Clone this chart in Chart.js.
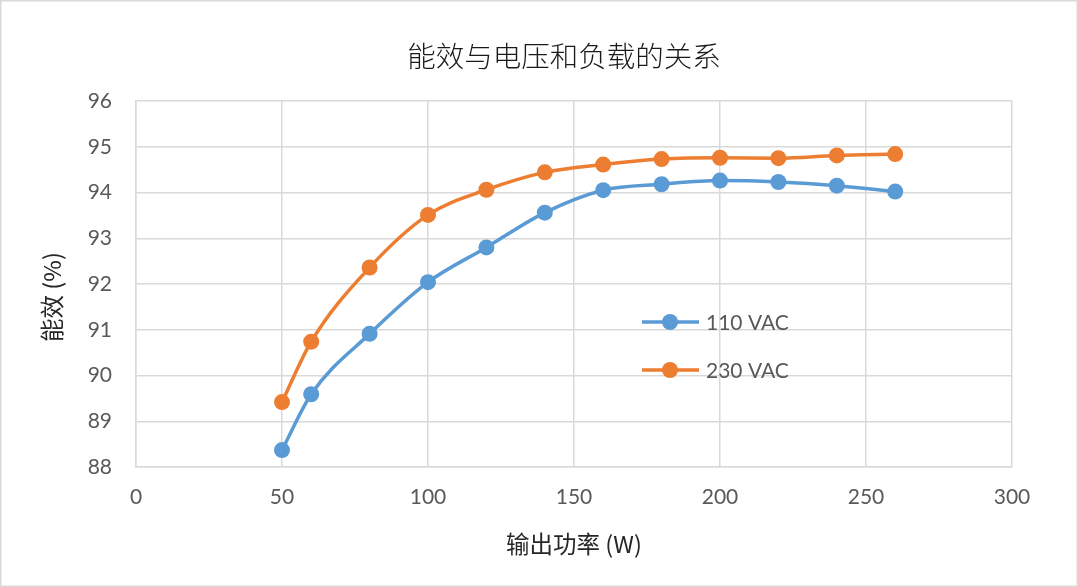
<!DOCTYPE html>
<html>
<head>
<meta charset="utf-8">
<script src="https://cdn.jsdelivr.net/npm/chart.js@4.4.1/dist/chart.umd.min.js"></script>
<style>
  html, body { margin: 0; padding: 0; background: #fff; }
  canvas { display: block; }
</style>
</head>
<body>
<canvas id="chart" width="1078" height="587"></canvas>
<script>
// data
const powerW = [50, 60, 80, 100, 120, 140, 160, 180, 200, 220, 240, 260];
const eff110 = [88.37, 89.59, 90.91, 92.04, 92.80, 93.56, 94.05, 94.18, 94.26, 94.23, 94.15, 94.02];
const eff230 = [89.42, 90.74, 92.36, 93.51, 94.06, 94.44, 94.61, 94.73, 94.76, 94.75, 94.81, 94.84];
const seriesNames = ['110 VAC', '230 VAC'];
const seriesColors = ['#5b9bd5', '#ed7d31'];

const titleText = '能效与电压和负载的关系';
const xTitle = '输出功率 (W)';
const yTitle = '能效 (%)';

const latin = "Lato, 'Noto Sans CJK SC', sans-serif";
const cjk = "'Noto Sans CJK SC', Lato, sans-serif";

function toPoints(ys) {
    return powerW.map((x, i) => ({ x: x, y: ys[i] }));
}

// thin grey frame round the whole chart
const frame = {
    id: 'frame',
    beforeDraw(chart) {
        const c = chart.ctx;
        c.save();
        c.fillStyle = '#fff';
        c.fillRect(0, 0, chart.width, chart.height);
        c.strokeStyle = '#d9d9d9';
        c.lineWidth = 1.5;
        c.strokeRect(0.75, 0.75, chart.width - 1.5, chart.height - 1.5);
        c.restore();
    }
};

// titles drawn by hand: Excel centres them a little off the Chart.js spots
const titles = {
    id: 'titles',
    afterDraw(chart) {
        const c = chart.ctx;
        const area = chart.chartArea;
        const midX = (area.left + area.right) / 2;
        const midY = (area.top + area.bottom) / 2;
        c.save();
        c.textAlign = 'center';
        c.textBaseline = 'middle';
        c.fillStyle = '#1a1a1a';
        c.font = '300 28.5px ' + cjk;
        c.fillText(titleText, midX - 10, area.top - 45);
        c.fillStyle = '#262626';
        c.font = '23.5px ' + cjk;
        c.fillText(xTitle, midX, area.bottom + 77);
        c.translate(52, midY + 13);
        c.rotate(-Math.PI / 2);
        c.fillText(yTitle, 0, 0);
        c.restore();
    }
};

// legend sits inside the plot, like the Excel original
const insideLegend = {
    id: 'insideLegend',
    afterDraw(chart) {
        const c = chart.ctx;
        const area = chart.chartArea;
        const x0 = area.left + 506;
        c.save();
        chart.data.datasets.forEach((ds, i) => {
            const y = area.top + 221 + i * 48;
            c.strokeStyle = ds.borderColor;
            c.lineWidth = 3.5;
            c.beginPath();
            c.moveTo(x0, y);
            c.lineTo(x0 + 57, y);
            c.stroke();
            c.fillStyle = ds.backgroundColor;
            c.beginPath();
            c.arc(x0 + 28, y, 8, 0, Math.PI * 2);
            c.fill();
            c.fillStyle = '#595959';
            c.font = '21px ' + latin;
            c.textBaseline = 'middle';
            c.textAlign = 'left';
            c.fillText(ds.label, x0 + 64, y + 1);
        });
        c.restore();
    }
};

const ctx = document.getElementById('chart').getContext('2d');
const chart = new Chart(ctx, {
    type: 'line',
    data: {
        datasets: [eff110, eff230].map((ys, i) => ({
            label: seriesNames[i],
            data: toPoints(ys),
            borderColor: seriesColors[i],
            backgroundColor: seriesColors[i],
            borderWidth: 3.5,
            pointRadius: 8,
            pointHoverRadius: 8,
            pointBorderWidth: 0,
            tension: 0.35,
            cubicInterpolationMode: 'monotone',
            fill: false
        }))
    },
    options: {
        responsive: false,
        animation: false,
        devicePixelRatio: 1,
        layout: { padding: { left: 0, right: 66, top: 101, bottom: 0 } },
        plugins: {
            legend: { display: false },
            tooltip: { enabled: false },
            title: { display: false }
        },
        scales: {
            x: {
                type: 'linear',
                min: 0,
                max: 300,
                ticks: { stepSize: 50, color: '#595959', font: { family: latin, size: 21 }, padding: 18 },
                grid: { color: '#d9d9d9', lineWidth: 1.5, drawTicks: false },
                border: { color: '#d9d9d9', width: 1.5 },
                afterFit(scale) { scale.height = 120; }
            },
            y: {
                min: 88,
                max: 96,
                ticks: { stepSize: 1, color: '#595959', font: { family: latin, size: 21 }, padding: 24 },
                grid: { color: '#d9d9d9', lineWidth: 1.5, drawTicks: false },
                border: { color: '#d9d9d9', width: 1.5 },
                afterFit(scale) { scale.width = 136; }
            }
        }
    },
    plugins: [frame, titles, insideLegend]
});
</script>
</body>
</html>
